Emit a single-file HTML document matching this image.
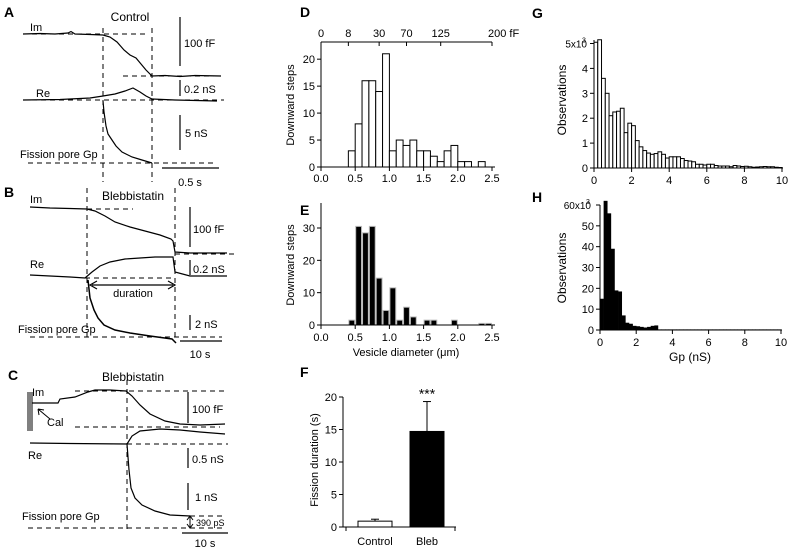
<!DOCTYPE html>
<html><head><meta charset="utf-8">
<style>
html,body{margin:0;padding:0;background:#fff;}
svg{display:block;font-family:"Liberation Sans",Arial,sans-serif;}
text{fill:#000;}
</style></head>
<body>
<svg id="fig" width="791" height="549" viewBox="0 0 791 549" xmlns="http://www.w3.org/2000/svg">
<g id="traces" fill="none" stroke="#000" stroke-width="1.2">
  <!-- Panel A -->
  <text x="4" y="17" font-size="14" font-weight="bold" stroke="none">A</text>
  <text x="130" y="21" font-size="12" text-anchor="middle" stroke="none">Control</text>
  <text x="30" y="31" font-size="11" stroke="none">Im</text>
  <path d="M23,34 L40,33.5 L55,34 L68,33 L71,31.5 L75,34 L90,34.5 L103,35 L110,37 L117,42 L124,50 L130,55 L136,58 L141,64 L146,70 L152,76 L165,75.5 L180,76.5 L195,75.5 L221,76"/>
  <path d="M23,34 H148 M123,76 H221 M23,100 H224 M28,163 H213 M103,28 V182 M152,28 V182" stroke-dasharray="5,4" stroke-width="1"/>
  <path d="M180,17 V66 M180,80 V96 M180,115 V150 M162,168 H219"/>
  <text x="184" y="47" font-size="11" stroke="none">100 fF</text>
  <text x="184" y="93" font-size="11" stroke="none">0.2 nS</text>
  <text x="185" y="137" font-size="11" stroke="none">5 nS</text>
  <text x="190" y="186" font-size="11" text-anchor="middle" stroke="none">0.5 s</text>
  <text x="36" y="97" font-size="11" stroke="none">Re</text>
  <path d="M23,100 L60,99.5 L90,98 L103,96 L115,94 L125,91 L133,88 L140,92 L146,96 L152,99 L175,100 L217,101"/>
  <path d="M103,101 L104,112 L106,126 L108,134 L112,140 L116,146 L122,152 L132,157 L142,160 L152,163"/>
  <text x="20" y="158" font-size="11" stroke="none">Fission pore Gp</text>

  <!-- Panel B -->
  <text x="4" y="197" font-size="14" font-weight="bold" stroke="none">B</text>
  <text x="133" y="200" font-size="12" text-anchor="middle" stroke="none">Blebbistatin</text>
  <text x="30" y="203" font-size="11" stroke="none">Im</text>
  <path d="M30,207 L50,208 L70,208.5 L87,209 L95,211 L105,216 L115,222 L130,227 L145,231 L160,235 L171,239 L173,241 L175,252 L190,253 L210,253 L227,253"/>
  <path d="M87,209 H133 M175,254 H236 M85,278 H175 M30,337 H222 M87,188 V340 M175,188 V340" stroke-dasharray="5,4" stroke-width="1"/>
  <path d="M190,207 V247 M190,260 V275 M190,315 V330 M180,341 H222"/>
  <text x="193" y="233" font-size="11" stroke="none">100 fF</text>
  <text x="193" y="273" font-size="11" stroke="none">0.2 nS</text>
  <text x="195" y="328" font-size="11" stroke="none">2 nS</text>
  <text x="200" y="358" font-size="11" text-anchor="middle" stroke="none">10 s</text>
  <text x="30" y="268" font-size="11" stroke="none">Re</text>
  <path d="M30,275 L50,276 L70,277 L85,278 L92,272 L100,266 L110,262 L125,259 L140,258 L155,257 L173,257 L175,272 L190,276 L227,276"/>
  <path d="M173,285 H92 M97,281 L90,285 L97,289 M168,281 L175,285 L168,289"/>
  <text x="133" y="297" font-size="11" text-anchor="middle" stroke="none">duration</text>
  <path d="M88,280 L90,298 L94,310 L98,318 L104,325 L115,330 L130,333 L150,336 L172,339 L176,343" stroke-width="1.5"/>
  <text x="18" y="333" font-size="11" stroke="none">Fission pore Gp</text>

  <!-- Panel C -->
  <text x="8" y="380" font-size="14" font-weight="bold" stroke="none">C</text>
  <text x="133" y="381" font-size="12" text-anchor="middle" stroke="none">Blebbistatin</text>
  <text x="32" y="396" font-size="11" stroke="none">Im</text>
  <path d="M28,392 V431 M30,392 V431 M32,392 V431" stroke-width="1"/>
  <path d="M32,403 L58,403 L60,399 L75,397 L88,392 L95,390 L110,390 L126,391 L132,396 L140,405 L150,414 L165,421 L180,424 L200,425 L225,424"/>
  <path d="M75,391 H228 M75,427 H220 M127,444 H228 M190,516 H222 M28,528 H222 M127,380 V530" stroke-dasharray="5,4" stroke-width="1"/>
  <path d="M50,419 L38,409 M38,409 L39,415 M38,409 L44,410" stroke-width="1"/>
  <text x="47" y="426" font-size="11" stroke="none">Cal</text>
  <path d="M127,444 L132,436 L140,431 L160,429 L180,430 L200,432 L225,434"/>
  <path d="M30,443 L70,443.5 L127,444"/>
  <text x="28" y="459" font-size="11" stroke="none">Re</text>
  <path d="M188,392 V423 M188,448 V468 M188,483 V510 M182,533 H228"/>
  <text x="192" y="413" font-size="11" stroke="none">100 fF</text>
  <text x="192" y="463" font-size="11" stroke="none">0.5 nS</text>
  <text x="195" y="501" font-size="11" stroke="none">1 nS</text>
  <path d="M127,444 L129,470 L131,488 L135,498 L142,505 L155,511 L170,515 L190,516"/>
  <text x="22" y="520" font-size="11" stroke="none">Fission pore Gp</text>
  <path d="M190,517 V527 M187,520 L190,516 L193,520 M187,524 L190,528 L193,524" stroke-width="1"/>
  <text x="196" y="526" font-size="9" stroke="none">390 pS</text>
  <text x="205" y="547" font-size="11" text-anchor="middle" stroke="none">10 s</text>
</g>
<g id="charts"></g>
</svg>
<script>
// Panel D data
const dBinStart = [0.4,0.5,0.6,0.7,0.8,0.9,1.0,1.1,1.2,1.3,1.4,1.5,1.6,1.7,1.8,1.9,2.0,2.1,2.2,2.3];
const dCounts = [3,8,16,16,14,21,3,5,4,5,3,3,2,1,3,4,1,1,0,1];
const dXTicks = ["0.0","0.5","1.0","1.5","2.0","2.5"];
const dYTicks = [0,5,10,15,20];
const dTopTickVals = [0,0.4,0.85,1.25,1.75,2.5];
const dTopTickLabels = ["0","8","30","70","125","200 fF"];
// Panel E data
const eBinStart = [0.4,0.5,0.6,0.7,0.8,0.9,1.0,1.1,1.2,1.3,1.5,1.6,1.9,2.3,2.4];
const eCounts = [1.5,30.5,28.5,30.5,14.5,4.5,11.5,1.5,5.5,2.5,1.5,1.5,1.5,0.5,0.5];
const eYTicks = [0,10,20,30];
// Panel F data
const fGroups = ["Control","Bleb"];
const fMeans = [0.9,14.7];
const fErrTop = [1.2,19.3];
const fYTicks = [0,5,10,15,20];
// Panel G data (thousands), bins of 0.2 nS
const gCounts = [5.05,5.15,3.6,3.0,2.1,2.25,2.28,2.4,1.42,1.8,1.7,1.1,0.85,0.7,0.6,0.55,0.58,0.65,0.55,0.4,0.45,0.45,0.45,0.38,0.3,0.28,0.25,0.15,0.15,0.12,0.15,0.15,0.1,0.08,0.08,0.08,0.05,0.1,0.08,0.06,0.07,0.05,0.03,0.04,0.05,0.06,0.05,0.05,0.03,0.02];
const gYTicks = [0,1,2,3,4,5];
const gXTicks = [0,2,4,6,8,10];
// Panel H data (thousands)
const hCounts = [15,62,56,39,19,18.5,7,3.5,3,2,1.8,1.5,1.2,1.5,2,2.2,0.3,0.3,0.3,0.3,0.3,0.3,0.3,0.3,0.3,0.3,0.3,0.3,0.3,0.3,0.3,0.3,0.3,0.3,0.3,0.3,0.3,0.3,0.3,0.3,0.3,0.3,0.3,0.3,0.3,0.3,0.3,0.3,0.3,0.3];
const hYTicks = [0,10,20,30,40,50,60];

const NS = "http://www.w3.org/2000/svg";
const root = document.getElementById("charts");
function mk(tag, attrs, parent, txt){
  const e = document.createElementNS(NS, tag);
  for (const k in attrs) e.setAttribute(k, attrs[k]);
  if (txt !== undefined) e.textContent = txt;
  (parent || root).appendChild(e);
  return e;
}
function lin(d0,d1,r0,r1){ return v => r0 + (v-d0)*(r1-r0)/(d1-d0); }
function text(x,y,s,size,anchor,name,extra){
  const t = mk("text", Object.assign({x:x,y:y,"font-size":size,"text-anchor":anchor||"middle"}, extra||{}), root, s);
  
  
  return t;
}
function line(x1,y1,x2,y2,name,w){
  const l = mk("line",{x1:x1,y1:y1,x2:x2,y2:y2,stroke:"#000","stroke-width":w||1});
  
  
  return l;
}
function rect(x,y,w,h,fill,stroke,name){
  const r = mk("rect",{x:x,y:y,width:Math.max(0,w),height:Math.max(0,h),fill:fill,stroke:stroke,"stroke-width":1});
  
  
  return r;
}

// ---- Panel D ----
(function(){
  const x = lin(0,2.5,321,492), y = lin(0,23,167,43);
  text(300,17,"D",14,"start","panel-label-d",{"font-weight":"bold"});
  dBinStart.forEach((b,i)=>{ if(dCounts[i]>0) rect(x(b),y(dCounts[i]),x(b+0.1)-x(b),y(0)-y(dCounts[i]),"#fff","#000","bar-d"); });
  line(321,167,495,167,"x-axis-d");
  line(321,42,321,167,"y-axis-d");
  line(321,42,492,42,"top-axis-d");
  dXTicks.forEach(t=>{ const v=parseFloat(t); line(x(v),167,x(v),171,"x-tick-d"); text(x(v),182,t,11,"middle","x-tick-label-d"); });
  dYTicks.forEach(v=>{ line(317,y(v),321,y(v),"y-tick-d"); text(315,y(v)+4,String(v),11,"end","y-tick-label-d"); });
  dTopTickVals.forEach((v,i)=>{ line(x(v),42,x(v),46,"top-tick-d"); text(i===5?x(v)-4:x(v),37,dTopTickLabels[i],11,i===5?"start":"middle","top-tick-label-d"); });
  text(294,105,"Downward steps",11,"middle","y-axis-title-d",{transform:"rotate(-90 294 105)"});
})();

// ---- Panel E ----
(function(){
  const x = lin(0,2.5,321,492), y = lin(0,30,325,228);
  text(300,215,"E",14,"start","panel-label-e",{"font-weight":"bold"});
  eBinStart.forEach((b,i)=>{ rect(x(b)+0.5,y(eCounts[i]),x(b+0.1)-x(b)-1,y(0)-y(eCounts[i]),"#000","#bbb","bar-e"); });
  line(321,325,495,325,"x-axis-e");
  line(321,203,321,325,"y-axis-e");
  dXTicks.forEach(t=>{ const v=parseFloat(t); line(x(v),325,x(v),329,"x-tick-e"); text(x(v),341,t,11,"middle","x-tick-label-e"); });
  eYTicks.forEach(v=>{ line(317,y(v),321,y(v),"y-tick-e"); text(315,y(v)+4,String(v),11,"end","y-tick-label-e"); });
  text(294,265,"Downward steps",11,"middle","y-axis-title-e",{transform:"rotate(-90 294 265)"});
  text(406,356,"Vesicle diameter (\u03bcm)",11,"middle","x-axis-title-e");
})();

// ---- Panel F ----
(function(){
  const y = lin(0,20,527,397);
  const bx = [358,410], bw = 34;
  text(300,377,"F",14,"start","panel-label-f",{"font-weight":"bold"});
  fGroups.forEach((g,i)=>{
    const cx = bx[i]+bw/2;
    line(cx,y(fMeans[i]),cx,y(fErrTop[i]),"error-bar-f");
    line(cx-4,y(fErrTop[i]),cx+4,y(fErrTop[i]),"error-cap-f");
    rect(bx[i],y(fMeans[i]),bw,y(0)-y(fMeans[i]),i===0?"#fff":"#000","#000","bar-"+g.toLowerCase());
    text(cx,545,g,11,"middle","x-label-"+g.toLowerCase());
  });
  line(343,527,456,527,"x-axis-f");
  line(346,527,346,531,"x-tick-f");
  line(455,527,455,531,"x-tick-f");
  line(343,397,343,527,"y-axis-f");
  fYTicks.forEach(v=>{ line(339,y(v),343,y(v),"y-tick-f"); text(337,y(v)+4,String(v),11,"end","y-tick-label-f"); });
  text(427,y(fErrTop[1])-3,"***",14,"middle","significance-stars");
  text(318,460,"Fission duration (s)",11,"middle","y-axis-title-f",{transform:"rotate(-90 318 460)"});
})();

// ---- Panel G ----
(function(){
  const x = lin(0,10,594,782), y = lin(0,5,168,43.5);
  text(532,18,"G",14,"start","panel-label-g",{"font-weight":"bold"});
  gCounts.forEach((c,i)=>{ rect(x(i*0.2),y(c),x(0.2)-x(0),y(0)-y(c),"#fff","#000","bar-g"); });
  line(594,168,783,168,"x-axis-g");
  line(594,40,594,168,"y-axis-g");
  gXTicks.forEach(v=>{ line(x(v),168,x(v),172,"x-tick-g"); text(x(v),184,String(v),11,"middle","x-tick-label-g"); });
  gYTicks.forEach(v=>{ line(590,y(v),594,y(v),"y-tick-g"); if(v<5) text(588,y(v)+4,String(v),11,"end","y-tick-label-g"); });
  text(587,y(5)+4,"5x10",10,"end","y-tick-label-g-top");
  text(582,y(5)-1,"3",7,"start","y-tick-exponent-g");
  text(566,100,"Observations",12,"middle","y-axis-title-g",{transform:"rotate(-90 566 100)"});
})();

// ---- Panel H ----
(function(){
  const x = lin(0,10,600,781), y = lin(0,60,330,205);
  text(532,202,"H",14,"start","panel-label-h",{"font-weight":"bold"});
  hCounts.forEach((c,i)=>{ rect(x(i*0.2),y(c),x(0.2)-x(0)+0.3,y(0)-y(c),"#000","none","bar-h"); });
  line(600,330,782,330,"x-axis-h");
  line(600,205,600,330,"y-axis-h");
  gXTicks.forEach(v=>{ line(x(v),330,x(v),334,"x-tick-h"); text(x(v),346,String(v),11,"middle","x-tick-label-h"); });
  hYTicks.forEach(v=>{ line(596,y(v),600,y(v),"y-tick-h"); if(v<60) text(594,y(v)+4,String(v),11,"end","y-tick-label-h"); });
  text(591,y(60)+4,"60x10",10,"end","y-tick-label-h-top");
  text(586,y(60)-1,"3",7,"start","y-tick-exponent-h");
  text(566,268,"Observations",12,"middle","y-axis-title-h",{transform:"rotate(-90 566 268)"});
  text(690,361,"Gp (nS)",12,"middle","x-axis-title-h");
})();
</script>
</body></html>
